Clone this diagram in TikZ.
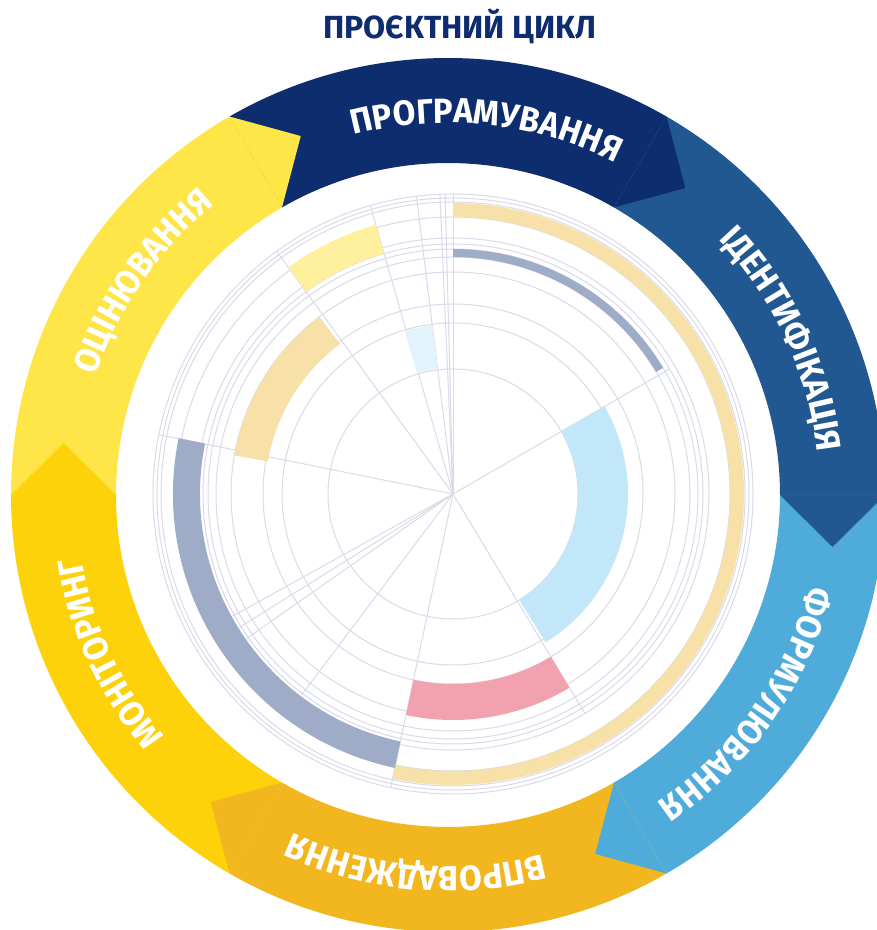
\documentclass[tikz,border=0pt]{standalone}
\usepackage{fontspec}
\setmainfont{Fira Sans}
\newfontfamily\ringfamily{Fira Sans}[FakeStretch=0.94]
\usetikzlibrary{decorations.text}

\definecolor{navy}{RGB}{13,45,111}
\definecolor{steel}{RGB}{33,88,146}
\definecolor{sky}{RGB}{79,172,218}
\definecolor{amber}{RGB}{242,182,31}
\definecolor{gold}{RGB}{253,210,10}
\definecolor{lemon}{RGB}{254,229,72}
\definecolor{grid}{RGB}{218,218,234}
\definecolor{paleblue}{RGB}{193,231,248}
\definecolor{rose}{RGB}{242,162,174}
\definecolor{sand}{RGB}{247,225,168}
\definecolor{slate}{RGB}{158,172,200}
\definecolor{paleyellow}{RGB}{254,240,156}
\definecolor{iceblue}{RGB}{226,243,251}

\newcommand\ringfont{\ringfamily\fontsize{35}{35}\selectfont\bfseries}

\begin{document}
\begin{tikzpicture}[x=1pt,y=1pt,
  gridline/.style={draw=grid, line width=1pt},
  ringlabel/.style={decorate, decoration={text along path, text align=center,
      text color=white, text={|\ringfont|#1}}}]
\useasboundingbox[fill=white] (0,0) rectangle (877,930);

\node[font=\fontsize{32}{32}\selectfont\bfseries, text=navy] (title) at (460,904) {ПРОЄКТНИЙ ЦИКЛ};

% cycle ring
\begin{scope}[shift={(448,435)}]
\foreach \a/\c in {60/navy, 0/steel, -60/sky, -120/amber, 180/gold, 120/lemon}
  \fill[\c] (\a:332) arc[start angle=\a, end angle=\a+60, radius=332]
    -- ({\a+60}:437) arc[start angle=\a+60, end angle=\a, radius=437] -- cycle;
% arrow tips
\foreach \a/\c in {60/navy, 0/steel, -60/sky, -120/amber, 180/gold, 120/lemon}
  \fill[\c] (\a:332) -- ({\a-7.7}:388) -- (\a:437) -- cycle;
\path[ringlabel=ПРОГРАМУВАННЯ] (124:372) arc[start angle=124, end angle=44, radius=372];
\path[ringlabel=ІДЕНТИФІКАЦІЯ] (65:372) arc[start angle=65, end angle=-15, radius=372];
\path[ringlabel=ФОРМУЛЮВАННЯ] (5:372) arc[start angle=5, end angle=-75, radius=372];
\path[ringlabel=ВПРОВАДЖЕННЯ] (-55:372) arc[start angle=-55, end angle=-135, radius=372];
\path[ringlabel=МОНІТОРИНГ] (245:372) arc[start angle=245, end angle=165, radius=372];
\path[ringlabel=ОЦІНЮВАННЯ] (185:372) arc[start angle=185, end angle=105, radius=372];
\end{scope}

% radial chart
\begin{scope}[shift={(453,436)}]
\foreach \r in {125,171,190,222,237,245,250,256,277,292,296,300}
  \draw[gridline] (0,0) circle[radius=\r];
\foreach \a/\r in {90/300, 91.5/300, 92.5/300, 97/300, 106/300, 126/300, 168.6/300,
    209/252, 212/252, 215/252, 233/252, 258/300, 301/256, 30/250}
  \draw[gridline] (0,0) -- (\a:\r);
\foreach \a/\b/\r/\s/\c in {-58/30/125/175/paleblue, -102/-59/190/226/rose,
    -102/90/277/291/sand, 31/90/237/245/slate, 168.5/258/253/280/slate,
    127/170/188/222/sand, 106/126/250/280/paleyellow, 97/106.5/126/170/iceblue}
  \fill[\c] (\a:\r) arc[start angle=\a, end angle=\b, radius=\r]
    -- (\b:\s) arc[start angle=\b, end angle=\a, radius=\s] -- cycle;
\end{scope}
\end{tikzpicture}
\end{document}
